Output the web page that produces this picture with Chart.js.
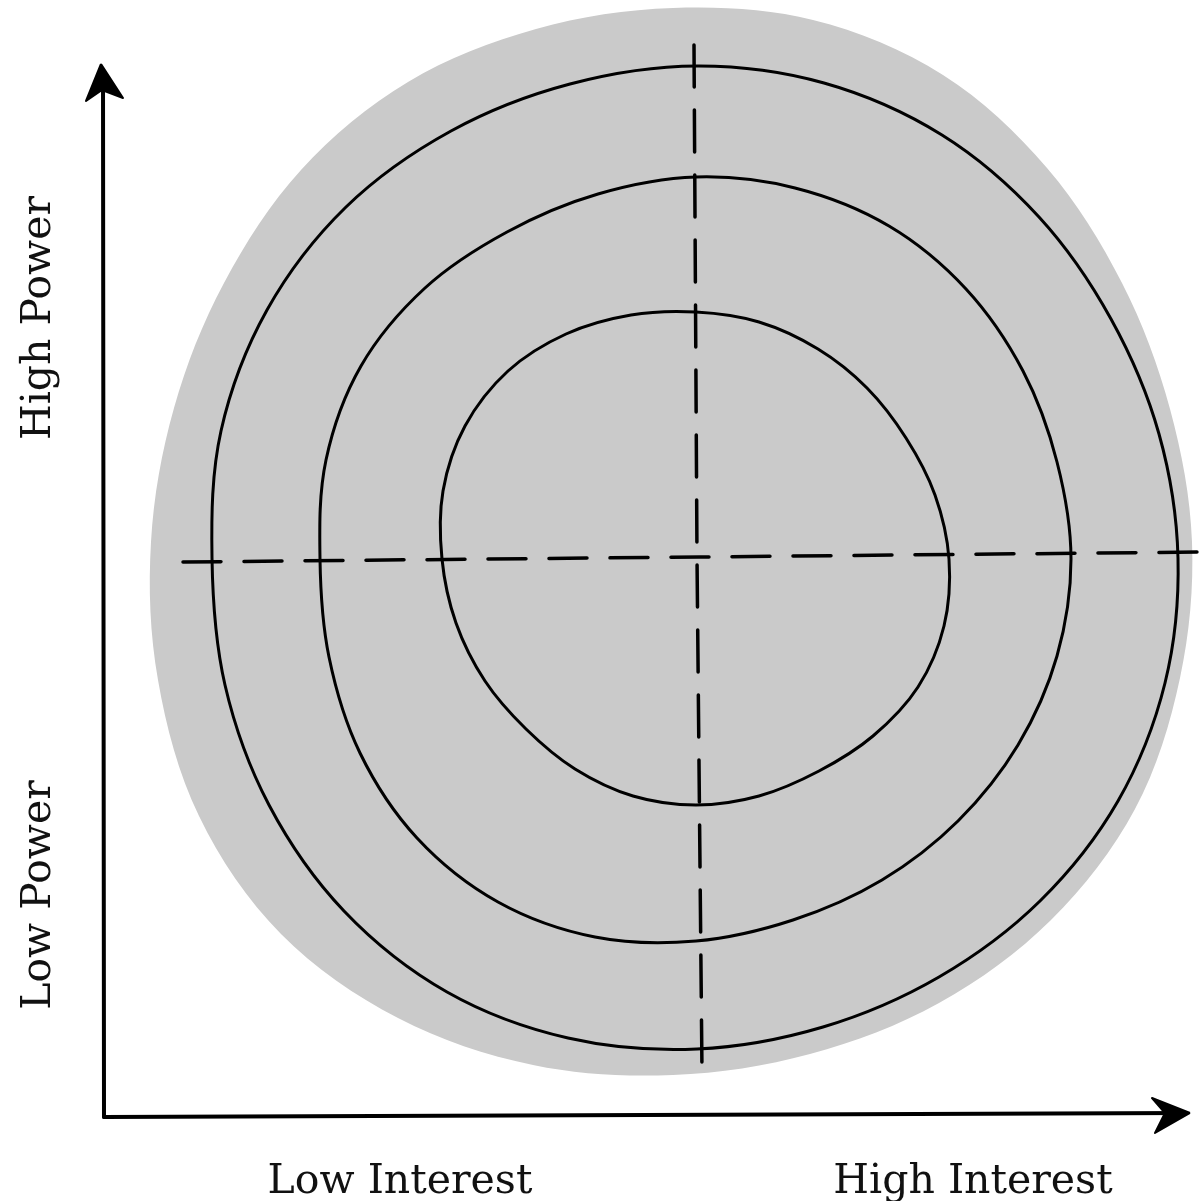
<!DOCTYPE html>
<html>
<head>
<meta charset="utf-8">
<script src="https://cdn.jsdelivr.net/npm/chart.js@4.4.1/dist/chart.umd.min.js"></script>
<style>
  html, body { margin: 0; padding: 0; background: #fff; }
  #wrap { width: 1200px; height: 1201px; position: relative; }
</style>
</head>
<body>
<div id="wrap"><canvas id="mycanvas"></canvas></div>
<script>
// outlines, [x, y] in page units (y grows downward), going round from the right
var blob = [[1192,542],[1170,409],[1122,283],[1047,168],[943,75],[813,20],[673,8],[536,29],[408,82],[301,170],[224,283],[174,408],[151,542],[158,680],[199,816],[281,934],[398,1018],[533,1065],[673,1075],[810,1054],[939,1003],[1051,920],[1135,809],[1180,678]];
var outerRing = [[1178,558],[1159,434],[1111,319],[1039,217],[942,135],[824,83],[697,66],[570,84],[451,131],[346,207],[267,310],[221,431],[212,558],[225,685],[269,805],[344,911],[447,992],[568,1038],[697,1049],[823,1027],[939,977],[1040,901],[1118,801],[1165,683]];
var middleRing = [[1071,559],[1057,462],[1023,371],[966,289],[889,226],[795,188],[696,177],[598,194],[507,232],[425,288],[361,366],[326,460],[320,559],[329,657],[360,753],[417,838],[498,902],[595,937],[696,941],[793,920],[882,880],[958,821],[1018,745],[1057,656]];
var innerRing = [[949,559],[935,495],[906,438],[867,388],[818,349],[759,322],[696,312],[631,315],[566,334],[508,371],[465,426],[443,491],[442,559],[456,623],[485,681],[526,729],[575,769],[633,796],[696,805],[759,796],[819,771],[873,736],[918,687],[944,626]];
var hLine = [[183,562],[700,557],[1200,552]];
var vLine = [[694,45],[697,557],[702,1072]];
var yAxisLine = [[103,70],[104,1117]];
var xAxisLine = [[104,1117],[1186,1113]];
var upArrow = [[101,64],[86,101],[102,90],[123,98],[101,64]];
var rightArrow = [[1190,1113],[1152,1098],[1165,1113],[1155,1133],[1190,1113]];

var xLabels = ['Low Interest', 'High Interest'];
var xLabelPos = [400, 973];
var yLabels = ['High Power', 'Low Power'];
var yLabelPos = [318, 895];

function pts(arr) {
	return arr.map(function(p){ return {x: p[0], y: p[1]}; });
}

// closed smooth loop: pad both ends so every visible joint is smooth, hide the padding segments
function loop(arr) {
	var n = arr.length;
	return pts([arr[n - 1]].concat(arr, [arr[0], arr[1]]));
}

function ringSet(arr, fillColor, lineColor, order) {
	var n = arr.length;
	return {
		data: loop(arr),
		order: order,
		showLine: true,
		tension: 0.34,
		pointRadius: 0,
		borderWidth: lineColor ? 3 : 0,
		borderColor: lineColor || 'transparent',
		backgroundColor: fillColor || 'transparent',
		fill: fillColor ? 'shape' : false,
		segment: {
			borderColor: function(ctx) {
				if (ctx.p0DataIndex === 0 || ctx.p0DataIndex === n + 1) return 'transparent';
				return lineColor || 'transparent';
			}
		}
	};
}

function lineSet(arr, width, dash) {
	return {
		data: pts(arr),
		order: 1,
		showLine: true,
		tension: 0,
		pointRadius: 0,
		borderWidth: width,
		borderColor: '#000',
		borderDash: dash || [],
		borderCapStyle: 'round',
		fill: false
	};
}

function arrowSet(arr) {
	return {
		data: pts(arr),
		order: 0,
		showLine: true,
		tension: 0,
		pointRadius: 0,
		borderWidth: 2,
		borderColor: '#000',
		backgroundColor: '#000',
		borderJoinStyle: 'round',
		fill: 'shape'
	};
}

var labelPlugin = {
	id: 'labels',
	afterDraw: function(chart) {
		var ctx = chart.ctx;
		var xs = chart.scales.x, ys = chart.scales.y;
		ctx.save();
		ctx.fillStyle = '#111';
		ctx.font = '41px "DejaVu Serif"';
		ctx.textAlign = 'center';
		ctx.textBaseline = 'alphabetic';
		for (var i = 0; i < xLabels.length; i++) {
			ctx.fillText(xLabels[i], xs.getPixelForValue(xLabelPos[i]), ys.getPixelForValue(1193));
		}
		for (var j = 0; j < yLabels.length; j++) {
			ctx.save();
			ctx.translate(xs.getPixelForValue(50), ys.getPixelForValue(yLabelPos[j]));
			ctx.rotate(-Math.PI / 2);
			ctx.fillText(yLabels[j], 0, 0);
			ctx.restore();
		}
		ctx.restore();
	}
};

var ctx = document.getElementById('mycanvas');
new Chart(ctx, {
	type: 'scatter',
	data: {
		datasets: [
			ringSet(blob, '#cacaca', null, 10),
			ringSet(outerRing, null, '#000', 5),
			ringSet(middleRing, null, '#000', 5),
			ringSet(innerRing, null, '#000', 5),
			lineSet(hLine, 3.5, [38, 23]),
			lineSet(vLine, 3.5, [42, 23]),
			lineSet(yAxisLine, 4),
			lineSet(xAxisLine, 4),
			arrowSet(upArrow),
			arrowSet(rightArrow)
		]
	},
	options: {
		responsive: true,
		maintainAspectRatio: false,
		animation: false,
		layout: { padding: 0 },
		plugins: { legend: { display: false }, tooltip: { enabled: false } },
		scales: {
			x: { type: 'linear', display: false, min: 0, max: 1200 },
			y: { type: 'linear', display: false, min: 0, max: 1201, reverse: true }
		}
	},
	plugins: [labelPlugin]
});
</script>
</body>
</html>
